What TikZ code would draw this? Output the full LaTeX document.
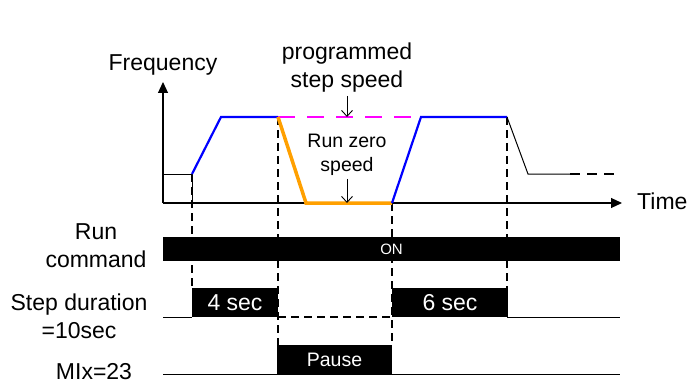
\documentclass[tikz,border=0pt]{standalone}
\usepackage{fontspec}
\setmainfont{Liberation Sans}
\usetikzlibrary{arrows.meta}
\definecolor{rampblue}{RGB}{0,0,255}
\definecolor{stepmagenta}{RGB}{255,0,255}
\definecolor{zeroorange}{RGB}{255,160,0}

\begin{document}
\begin{tikzpicture}[x=1pt,y=-1pt,
    lbl/.style={font=\fontsize{23}{28}\selectfont, align=center, inner sep=0pt},
    small/.style={font=\fontsize{19.5}{24}\selectfont, align=center, inner sep=0pt},
    guide/.style={line width=1.8pt, dash pattern=on 8pt off 5pt},
    bar/.style={fill=black, text=white, inner sep=0pt},
    ptr/.style={-{Straight Barb[length=6pt,width=11pt]}, line width=0.9pt},
    axis/.style={line width=1.1pt, -{Triangle[length=11pt,width=10pt]}}]
  \useasboundingbox (0,0) rectangle (688,385);

  % frequency profile points
  \coordinate (O) at (163,203);
  \coordinate (T) at (622,203);
  \coordinate (F) at (163,82);
  \coordinate (S) at (192,174);
  \coordinate (A) at (221,117);
  \coordinate (B) at (278,117);
  \coordinate (C) at (306,203);
  \coordinate (D) at (392,203);
  \coordinate (E) at (421,117);
  \coordinate (G) at (507,117);
  \coordinate (H) at (528,174);
  \coordinate (K) at (570,174);
  \coordinate (L) at (615,174);

  % guides down to the timing rows
  \draw[guide] (S) -- (192,288);
  \draw[guide] (B) -- (278,345);
  \draw[guide] (D) -- (392,345);
  \draw[guide] (G) -- (507,288);

  \draw[axis] (O) -- (F);
  \draw[axis] (O) -- (T);
  \node[lbl] (freq) at (163,65) {Frequency};
  \node[lbl, anchor=west] (time) at (637,201) {Time};

  \draw[line width=0.8pt] (163,174) -- (S) -- (192,203);
  \draw[line width=2pt] (O) -- (192,203);
  \draw[rampblue, line width=2.2pt] (S) -- (A) -- (B);
  \draw[stepmagenta, line width=2.2pt, dash pattern=on 17pt off 12pt] (B) -- (E);
  \draw[zeroorange, line width=3.5pt] (B) -- (C) -- (D);
  \draw[rampblue, line width=2.2pt] (D) -- (E) -- (G);
  \draw[line width=1pt] (G) -- (H) -- (K);
  \draw[line width=2pt, dash pattern=on 10pt off 7pt] (K) -- (L);

  \node[lbl] (prog) at (347,68) {programmed\\step speed};
  \node[small] (zero) at (347,155) {Run zero\\speed};
  \coordinate (P) at (347,117);
  \coordinate (Q) at (347,203);
  \draw[ptr] ([yshift=-3pt]prog.south) -- (P);
  \draw[ptr] ([yshift=-3pt]zero.south) -- (Q);

  % timing rows
  \node[lbl] (run) at (96,246) {Run\\command};
  \node[lbl] (dur) at (79,316) {Step duration\\=10sec};
  \node[lbl] (mix) at (94,372) {MIx=23};

  \node[bar, minimum width=457pt, minimum height=24pt,
        font=\fontsize{15}{18}\selectfont] (on) at (391.5,249) {ON};

  \draw[line width=1pt] (163,317) -- (192,317);
  \draw[line width=1.6pt, dash pattern=on 8pt off 5pt] (278,317) -- (392,317);
  \draw[line width=1pt] (507,317) -- (620,317);
  \node[bar, lbl, minimum width=86pt, minimum height=29pt] (four) at (235,302.5) {4 sec};
  \node[bar, lbl, minimum width=116pt, minimum height=29pt] (six) at (450,302.5) {6 sec};

  \draw[line width=1pt] (163,374) -- (620,374);
  \node[bar, small, minimum width=115pt, minimum height=29pt] (pause) at (334.5,359.5) {Pause};
\end{tikzpicture}
\end{document}
